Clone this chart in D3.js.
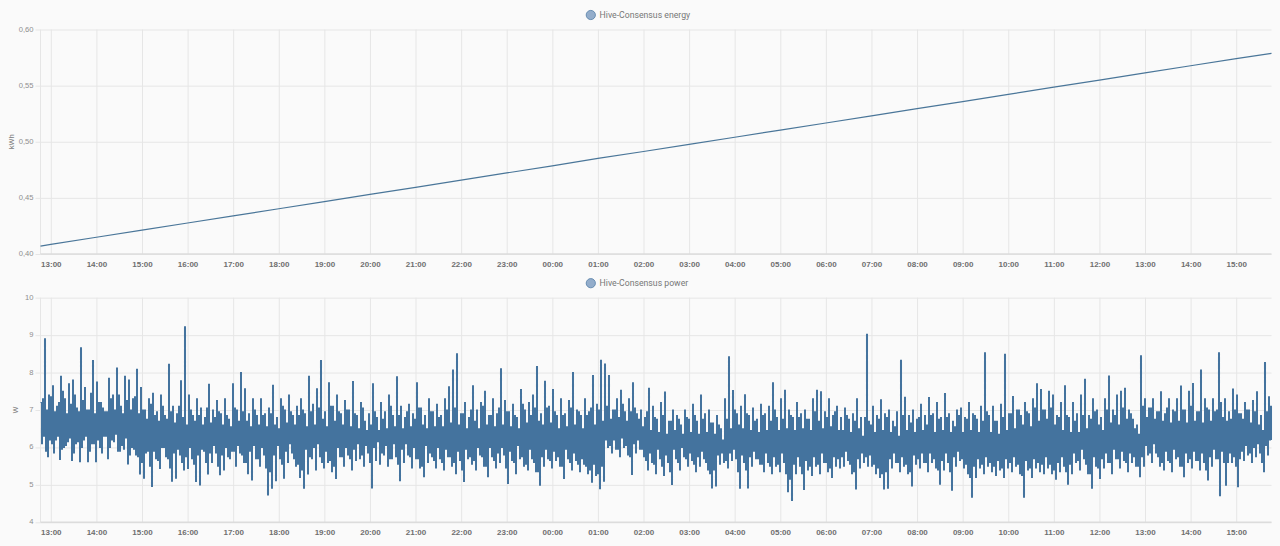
<!DOCTYPE html>
<html>
<head>
<meta charset="utf-8">
<script src="https://cdn.jsdelivr.net/npm/d3@7"></script>
<style>
  html, body { margin: 0; padding: 0; background: #fafafa; }
  svg { display: block; font-family: Roboto, sans-serif; }
  .grid line { stroke: #e6e6e6; stroke-width: 1; }
  .grid path { display: none; }
  .ytick text { fill: #8e8e8e; font-size: 7.6px; }
  .xtick text { fill: #6f6f6f; font-size: 8px; font-weight: 700; }
</style>
</head>
<body>
<div id="chart"></div>
<script>
// Energy readings, one per hour from 13:00
var energyHours = [0, 1, 2, 3, 4, 5, 6, 7, 8, 9, 10, 11, 12, 13, 14, 15, 16, 17, 18, 19, 20, 21, 22, 23, 24, 25, 26];
var energy = [0.4085, 0.4149, 0.4212, 0.4276, 0.434, 0.4403, 0.4467, 0.4531, 0.4594, 0.4658, 0.4722, 0.4785, 0.4852,
  0.4913, 0.4976, 0.504, 0.5104, 0.5167, 0.5231, 0.5295, 0.5358, 0.5422, 0.5486, 0.5549, 0.5613, 0.5677, 0.574];
var energyFirst = 0.407;
var energyLast = 0.5787;

// Power peaks and dips, about 100 px of chart per row
var power0 = [7.2,6.3, 8.9,5.75, 7.4,6.1, 7.65,6.2, 7.1,5.68, 7.9,6.0, 7.3,6.15, 7.7,5.65, 7.8,6.1, 7.05,5.62, 8.66,6.2, 7.6,5.62, 7.0,6.1, 8.32,5.62, 7.75,6.0, 7.2,6.3, 6.95,5.7, 7.85,6.2, 7.4,6.35, 8.12,5.9, 7.1,5.95, 7.9,5.56, 7.8,6.0, 7.3,5.8, 8.09,5.29];
var power1 = [7.6,5.18, 7.0,5.9, 7.3,4.96, 7.45,5.7, 6.95,5.44, 7.4,6.0, 6.85,5.7, 8.22,5.1, 7.1,5.18, 6.9,5.8, 7.78,5.4, 9.22,5.44, 7.4,5.7, 6.85,5.09, 7.3,5.0, 7.05,5.9, 6.8,5.29, 7.69,5.6, 7.0,5.85, 7.25,5.27, 6.9,5.4, 7.3,5.75, 6.75,5.9, 7.7,5.5, 7.0,5.85];
var power2 = [8.0,5.6, 7.57,5.3, 6.9,5.13, 7.3,5.7, 6.85,5.5, 7.3,5.8, 6.9,4.73, 7.05,4.91, 7.66,5.11, 6.8,5.7, 7.3,5.18, 7.0,5.6, 7.4,5.85, 6.85,5.5, 7.1,5.2, 7.3,4.91, 6.9,5.29, 7.9,5.7, 7.15,5.4, 7.57,5.75, 8.32,5.45, 6.95,5.6, 7.73,5.35, 7.1,5.17, 7.4,5.75];
var power3 = [6.9,5.5, 7.25,5.8, 7.0,5.4, 7.76,5.65, 6.85,5.7, 7.2,5.5, 6.7,5.85, 6.9,4.92, 7.7,5.65, 6.8,5.55, 7.2,5.8, 6.95,5.5, 7.4,5.7, 6.85,5.75, 7.89,5.11, 7.1,5.6, 6.8,5.8, 7.15,5.45, 6.9,5.7, 7.73,5.45, 7.05,5.22, 6.85,5.6, 7.3,5.75, 6.95,5.45, 7.15,5.7];
var power4 = [6.85,5.4, 7.3,5.75, 7.62,5.5, 8.07,5.3, 8.5,5.65, 6.9,5.09, 7.2,5.7, 6.8,5.55, 7.65,5.4, 7.0,5.8, 7.2,5.5, 7.5,5.22, 6.85,5.75, 7.3,5.45, 6.9,5.6, 8.1,5.8, 7.25,5.04, 6.95,5.65, 7.15,5.3, 6.8,5.7, 7.55,5.5, 7.0,5.4, 7.2,5.7, 7.4,5.35, 8.16,4.99];
var power5 = [6.9,5.5, 7.77,5.7, 7.1,5.45, 7.55,5.65, 6.85,5.5, 7.3,5.17, 6.9,5.7, 7.25,5.4, 8.0,5.65, 7.0,5.35, 6.85,5.55, 7.3,5.3, 6.95,5.07, 7.92,5.25, 7.15,4.9, 8.33,5.1, 8.23,6.0, 7.92,5.85, 7.0,5.95, 7.3,5.75, 7.53,6.0, 6.95,5.8, 7.3,5.28, 7.73,5.85, 6.9,5.95];
var power6 = [7.0,5.75, 6.8,5.4, 7.58,5.6, 7.1,5.3, 6.75,5.7, 7.2,5.25, 7.48,5.6, 6.7,5.01, 7.0,5.7, 6.85,5.4, 6.6,5.75, 7.0,5.5, 6.75,5.65, 7.15,5.35, 6.7,5.5, 7.4,5.7, 6.9,5.4, 7.0,4.92, 6.65,4.97, 6.85,5.55, 6.5,5.6, 7.3,5.45, 8.42,5.65, 7.52,5.7, 6.9,4.91];
var power7 = [7.1,5.6, 7.41,4.92, 6.85,5.5, 7.05,5.7, 6.75,5.55, 7.15,5.35, 6.9,5.6, 7.1,5.3, 7.73,5.5, 6.8,5.35, 7.3,5.6, 7.53,4.82, 7.0,4.58, 6.8,5.3, 7.2,5.5, 6.9,4.88, 7.0,5.4, 6.75,5.25, 7.3,5.5, 7.53,5.3, 7.49,5.6, 6.95,5.35, 7.3,5.2, 6.85,5.5, 7.1,5.45];
var power8 = [6.8,5.5, 7.05,5.65, 6.75,5.3, 6.9,4.89, 7.3,5.45, 6.8,5.6, 6.8,5.5, 6.7,5.5, 7.1,5.3, 6.85,5.2, 7.27,4.89, 6.9,4.91, 7.0,5.45, 6.7,5.6, 6.95,5.35, 8.33,5.5, 7.34,5.3, 6.85,4.97, 7.0,5.55, 6.75,5.45, 7.15,5.6, 6.85,5.35, 7.33,5.6, 6.9,5.45, 7.2,5.02];
var power9 = [6.8,5.4, 7.44,5.6, 6.9,4.86, 6.7,5.5, 7.0,5.65, 7.05,5.45, 6.8,5.3, 7.2,4.67, 6.9,5.2, 6.75,5.45, 7.1,5.3, 8.53,5.5, 6.85,5.35, 7.1,5.25, 6.7,5.4, 7.15,5.2, 8.49,5.45, 6.9,5.35, 7.36,5.5, 7.0,5.3, 6.85,4.67, 7.2,5.4, 6.9,5.2, 7.3,5.45, 7.7,5.35];
var power10 = [7.55,5.3, 7.0,5.45, 7.5,5.3, 7.4,5.15, 6.85,5.35, 7.2,5.5, 7.65,5.02, 6.8,5.3, 7.2,5.6, 6.9,5.4, 7.4,5.7, 7.82,5.3, 6.85,4.91, 7.3,5.5, 7.0,5.17, 6.8,5.45, 7.3,5.6, 7.91,5.3, 7.0,5.7, 7.4,5.45, 7.5,5.65, 7.58,5.35, 7.0,5.6, 6.75,5.5, 6.6,5.22];
var power11 = [8.45,5.5, 7.3,5.8, 7.05,5.6, 7.3,5.85, 6.95,5.5, 7.49,5.4, 6.9,5.65, 7.3,5.35, 7.0,5.7, 7.3,5.5, 7.64,5.22, 7.0,5.6, 7.5,5.45, 7.71,5.65, 6.95,5.4, 8.07,5.6, 7.3,5.13, 7.0,5.5, 7.3,5.7, 7.0,4.71, 7.2,5.6, 7.3,5.6, 6.95,5.6, 7.56,5.5, 7.4,5.7];
var power12 = [6.9,5.65, 7.2,5.8, 7.0,5.6, 7.25,5.75, 7.49,5.85, 6.85,5.35, 8.27,5.8, 7.35,6.2];

// Readings inside the dense band, same rows, low then high
var inner0 = [6.1,7.3, 5.9,7.0, 6.2,7.35, 5.85,6.95, 6.3,7.2, 5.95,7.5, 6.05,6.9, 6.25,7.15, 5.85,7.4, 6.15,6.95, 6.0,7.25, 6.3,7.0, 5.9,7.45, 6.1,6.9, 6.2,7.2, 5.85,7.05, 6.3,6.95, 6.0,7.3, 6.15,7.0, 5.9,7.4, 6.05,6.9, 6.25,7.25, 5.8,7.0, 5.95,7.35, 5.75,6.9];
var inner1 = [5.6,7.0, 5.85,6.75, 5.5,7.15, 5.9,6.85, 5.65,6.7, 6.0,7.1, 5.75,6.75, 5.45,6.95, 5.85,6.65, 5.95,7.1, 5.6,6.8, 5.75,6.6, 6.0,7.0, 5.55,6.7, 5.8,6.85, 5.95,6.6, 5.6,7.05, 5.85,6.65, 6.05,6.8, 5.5,6.95, 5.8,6.6, 6.0,6.85, 5.7,6.55, 5.9,7.05, 6.05,6.7];
var inner2 = [5.8,6.95, 5.6,6.7, 5.9,6.55, 6.05,7.0, 5.7,6.6, 6.0,6.85, 5.45,6.55, 5.35,6.9, 5.8,6.6, 6.05,6.5, 5.55,7.1, 5.9,6.65, 6.1,6.95, 5.7,6.6, 5.55,6.85, 5.4,7.0, 5.95,6.55, 5.75,6.95, 6.0,6.6, 6.1,7.05, 5.6,6.75, 5.9,6.55, 5.65,7.1, 5.5,6.7, 6.0,6.95];
var inner3 = [5.75,6.6, 6.0,7.0, 5.7,6.55, 5.95,6.9, 6.1,6.5, 5.8,7.05, 6.05,6.45, 5.6,6.6, 6.0,6.95, 6.15,6.45, 5.85,6.75, 6.05,6.5, 5.7,7.1, 6.1,6.55, 5.55,6.85, 5.95,6.5, 6.1,6.95, 5.75,6.55, 6.0,6.75, 5.7,7.05, 5.5,6.6, 6.05,6.5, 5.85,6.95, 5.65,6.55, 6.0,6.8];
var inner4 = [5.6,6.55, 5.95,7.0, 5.75,6.65, 5.6,7.05, 5.9,6.6, 5.4,6.9, 5.95,6.5, 5.75,7.0, 5.65,6.7, 6.0,6.5, 5.75,7.1, 5.5,6.6, 6.0,6.85, 5.65,6.55, 5.85,7.05, 6.0,6.6, 5.45,6.95, 5.9,6.55, 5.6,6.85, 6.05,6.5, 5.75,7.15, 5.55,6.65, 5.95,6.85, 5.6,7.05, 5.35,6.7];
var inner5 = [5.75,6.6, 5.95,7.05, 5.65,6.65, 5.9,6.95, 5.75,6.5, 5.5,6.85, 5.95,6.55, 5.6,7.05, 5.85,6.6, 5.55,6.95, 5.7,6.5, 5.5,6.85, 5.4,7.05, 5.55,6.6, 5.3,7.0, 5.5,6.7, 6.2,7.1, 6.05,6.75, 6.2,7.0, 5.95,6.8, 6.25,7.15, 6.05,6.7, 5.75,6.95, 6.1,7.05, 6.2,6.75];
var inner6 = [5.95,6.55, 5.65,6.95, 5.85,6.45, 5.55,6.8, 5.95,6.4, 5.5,6.85, 5.8,6.35, 5.35,6.7, 5.95,6.45, 5.6,6.75, 6.0,6.35, 5.7,6.8, 5.85,6.4, 5.55,6.85, 5.75,6.35, 5.9,6.75, 5.6,6.4, 5.3,6.65, 5.4,6.35, 5.8,6.6, 5.85,6.2, 5.65,6.75, 5.85,6.5, 5.95,7.0, 5.35,6.6];
var inner7 = [5.8,6.5, 5.4,6.9, 5.75,6.45, 5.9,6.7, 5.7,6.4, 5.55,6.85, 5.85,6.45, 5.5,6.7, 5.75,7.0, 5.55,6.45, 5.85,6.75, 5.3,6.5, 5.15,6.85, 5.55,6.45, 5.75,6.8, 5.3,6.5, 5.65,6.75, 5.5,6.45, 5.75,6.95, 5.55,6.7, 5.85,6.5, 5.6,6.8, 5.45,6.55, 5.75,6.95, 5.7,6.45];
var inner8 = [5.75,6.45, 5.9,6.85, 5.55,6.4, 5.35,6.7, 5.7,6.5, 5.85,6.3, 5.75,9.02, 5.8,6.6, 5.55,6.4, 5.45,6.75, 5.3,6.45, 5.35,6.8, 5.7,6.4, 5.85,6.55, 5.6,6.3, 5.75,6.85, 5.55,6.45, 5.35,6.65, 5.8,6.4, 5.7,6.8, 5.85,6.45, 5.6,6.6, 5.85,6.85, 5.7,6.4, 5.4,6.75];
var inner9 = [5.65,6.45, 5.85,6.8, 5.35,6.4, 5.75,6.55, 5.9,6.85, 5.7,6.4, 5.55,6.75, 5.2,6.45, 5.5,6.85, 5.7,6.4, 5.55,6.7, 5.75,6.95, 5.6,6.4, 5.5,6.7, 5.65,6.35, 5.45,6.8, 5.7,6.45, 5.6,6.9, 5.75,6.5, 5.55,7.0, 5.25,6.6, 5.65,6.95, 5.45,6.55, 5.7,7.05, 5.6,6.7];
var inner10 = [5.55,7.0, 5.75,6.75, 5.55,7.05, 5.4,6.6, 5.6,6.8, 5.75,6.45, 5.35,6.85, 5.55,6.4, 5.85,6.7, 5.65,6.4, 5.95,6.85, 5.55,6.5, 5.3,6.75, 5.75,6.95, 5.45,6.6, 5.7,6.45, 5.85,7.0, 5.6,6.65, 5.95,6.85, 5.7,6.6, 5.9,7.05, 5.6,6.75, 5.85,6.9, 5.75,6.5, 5.5,6.35];
var inner11 = [5.75,7.1, 6.05,6.8, 5.85,7.05, 6.1,6.75, 5.75,6.95, 5.6,6.7, 5.9,7.05, 5.6,6.65, 5.95,6.95, 5.75,6.7, 5.5,7.0, 5.85,6.65, 5.7,7.1, 5.9,6.7, 5.65,6.95, 5.85,6.65, 5.4,7.05, 5.75,6.7, 5.95,6.95, 5.7,8.53, 5.9,6.8, 4.99,6.7, 5.85,6.75, 5.75,7.0, 4.95,6.9];
var inner12 = [5.9,6.75, 6.05,7.0, 5.85,6.65, 6.0,6.95, 6.1,6.6, 5.6,6.45, 6.05,6.95, 6.2,7.1];

var peaks = [].concat(power0, power1, power2, power3, power4, power5, power6, power7, power8, power9, power10, power11, power12);
var band = [].concat(inner0, inner1, inner2, inner3, inner4, inner5, inner6, inner7, inner8, inner9, inner10, inner11, inner12);

var energyTicks = [0.40, 0.45, 0.50, 0.55, 0.60];
var powerTicks = [4, 5, 6, 7, 8, 9, 10];

// put the readings in time order: peak, band low, band high, dip
var power = [];
for (var i = 0; i < peaks.length; i += 2) {
  power.push(peaks[i], band[i], band[i + 1], peaks[i + 1]);
}

var svgWidth = 1280;
var svgHeight = 546;
var left = 40.5;
var right = 1271.5;

var startTime = new Date(2023, 0, 1, 12, 46, 26);
var endTime = new Date(2023, 0, 2, 15, 46, 27);
var sampleMs = (endTime - startTime) / (power.length - 1);

var svg = d3.select("#chart")
  .append("svg")
  .attr("width", svgWidth)
  .attr("height", svgHeight);

var xScale = d3.scaleTime()
  .domain([startTime, endTime])
  .range([left, right]);

function hourTime(h) {
  return new Date(2023, 0, 1, 13 + h);
}

var commaFormat = function(d) { return d3.format(".2f")(d).replace(".", ","); };

// draws grid, axes and labels for one panel, returns its y scale
function drawPanel(top, bottom, domain, ticks, tickFormat, unit, unitX, title) {
  var yScale = d3.scaleLinear().domain(domain).range([bottom, top]);

  svg.append("g")
    .attr("class", "grid xtick")
    .attr("transform", `translate(0, ${bottom})`)
    .call(d3.axisBottom(xScale)
      .ticks(d3.timeHour.every(1))
      .tickSize(-(bottom - top))
      .tickPadding(7)
      .tickFormat(d3.timeFormat("%H:%M")));

  svg.append("g")
    .attr("class", "grid ytick")
    .attr("transform", `translate(${left}, 0)`)
    .call(d3.axisLeft(yScale)
      .tickValues(ticks)
      .tickSize(5)
      .tickPadding(2)
      .tickFormat(tickFormat))
    .selectAll("text")
    .attr("dy", "0.2em");

  // gridlines across the plot
  svg.append("g")
    .attr("class", "grid")
    .attr("transform", `translate(${left}, 0)`)
    .call(d3.axisLeft(yScale)
      .tickValues(ticks)
      .tickSize(-(right - left))
      .tickFormat(""));

  svg.append("line")
    .attr("x1", left).attr("x2", left)
    .attr("y1", top).attr("y2", bottom)
    .attr("stroke", "#e6e6e6");

  svg.append("line")
    .attr("x1", left).attr("x2", right)
    .attr("y1", bottom).attr("y2", bottom)
    .attr("stroke", "#dcdcdc")
    .attr("stroke-width", 1.5);

  svg.append("text")
    .attr("transform", `translate(${unitX}, ${(top + bottom) / 2}) rotate(-90)`)
    .attr("text-anchor", "middle")
    .attr("font-size", "7.8px")
    .attr("fill", "#808080")
    .text(unit);

  // legend above the panel
  var legendY = top - 14.5;
  svg.append("circle")
    .attr("cx", 590.8)
    .attr("cy", legendY)
    .attr("r", 4.6)
    .attr("fill", "#93adcb")
    .attr("stroke", "#5f87ad")
    .attr("stroke-width", 0.9);

  svg.append("text")
    .attr("x", 599.6)
    .attr("y", legendY + 3)
    .attr("font-size", "8.7px")
    .attr("fill", "#777")
    .text(title);

  return yScale;
}

var yEnergy = drawPanel(29.5, 254, [0.40, 0.60], energyTicks, commaFormat, "kWh", 14, "Hive-Consensus energy");
var yPower = drawPanel(297.7, 522.3, [4, 10], powerTicks, d3.format("d"), "W", 18, "Hive-Consensus power");

// Energy line
var energyData = [{t: startTime, v: energyFirst}]
  .concat(energyHours.map(function(h, i) { return {t: hourTime(h), v: energy[i]}; }))
  .concat([{t: endTime, v: energyLast}]);

svg.append("path")
  .datum(energyData)
  .attr("fill", "none")
  .attr("stroke", "#4a7699")
  .attr("stroke-width", 1.2)
  .attr("d", d3.line()
    .x(function(d) { return xScale(d.t); })
    .y(function(d) { return yEnergy(d.v); }));

// Power line, stepped
svg.append("path")
  .datum(power)
  .attr("fill", "none")
  .attr("stroke", "#44739e")
  .attr("stroke-width", 1.05)
  .attr("d", d3.line()
    .curve(d3.curveStepAfter)
    .x(function(d, i) { return xScale(new Date(+startTime + i * sampleMs)); })
    .y(function(d) { return yPower(d); }));
</script>
</body>
</html>
